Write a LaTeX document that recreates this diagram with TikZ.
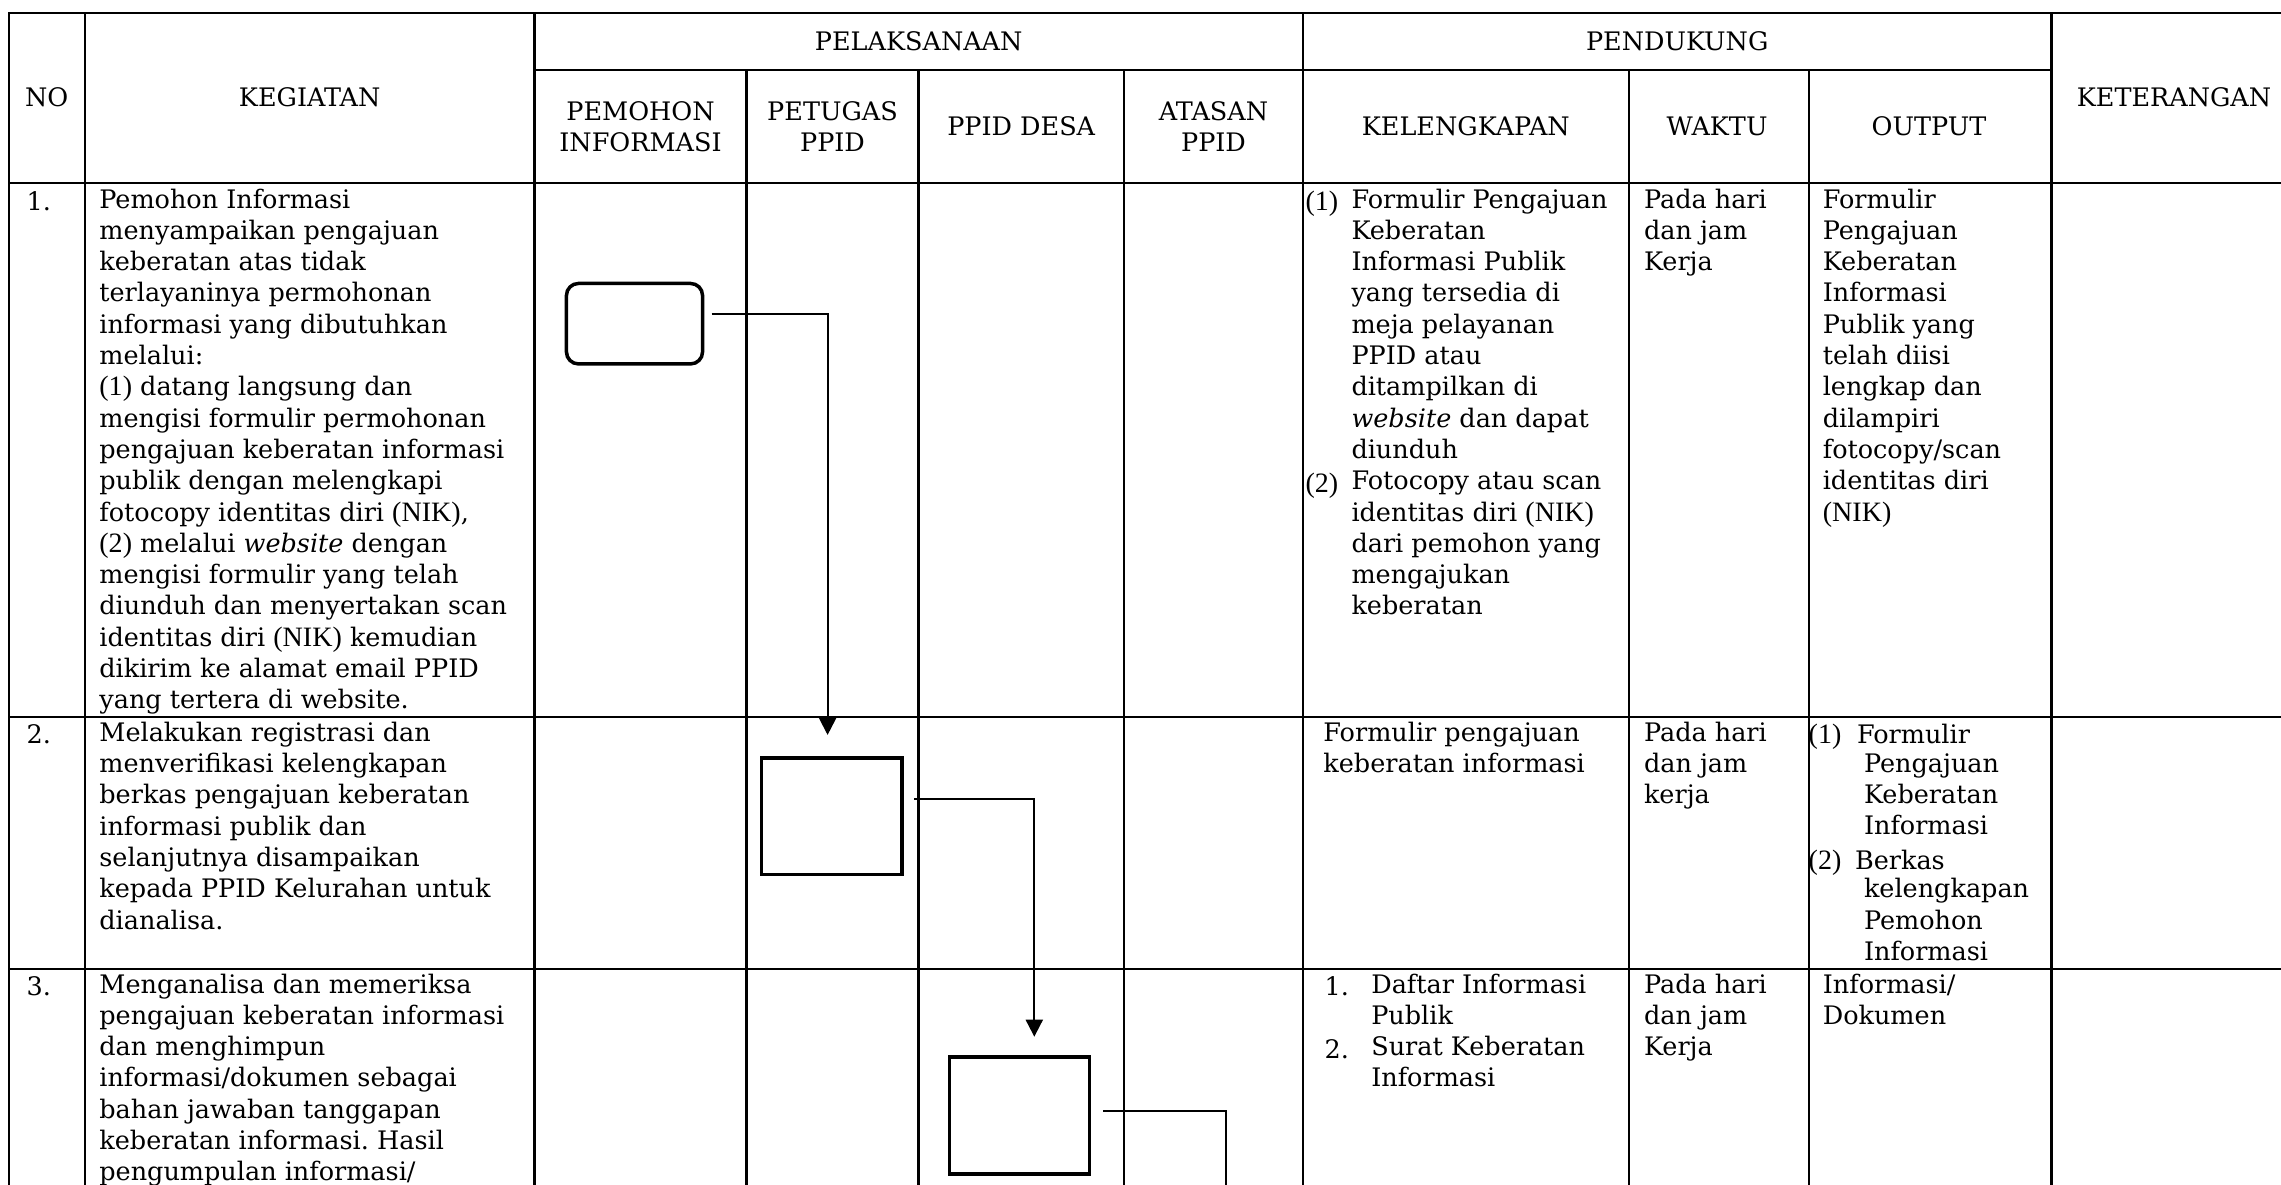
\documentclass[tikz,border=0pt]{standalone}
\usepackage{fontspec}
\setmainfont{DejaVu Serif}
\newfontfamily\tnr[Scale=1.1]{Liberation Serif}
\usetikzlibrary{arrows.meta}
\frenchspacing
\newcommand\bodyfont{\fontsize{25.5pt}{31.3pt}\selectfont\frenchspacing}
\begin{document}
\begin{tikzpicture}[x=1pt,y=-1pt,
  grid/.style={line width=2.2pt, line cap=rect},
  txt/.style={anchor=north west, inner sep=0pt, outer sep=0pt, align=left, font=\bodyfont, execute at begin node=\strut},
  hdr/.style={anchor=center, inner sep=0pt, align=center, font=\bodyfont},
  rbox/.style={draw, line width=3.5pt, rounded corners=12pt, inner sep=0pt, outer sep=0pt},
  sbox/.style={draw, line width=3.5pt, inner sep=0pt, outer sep=0pt},
  conn/.style={line width=2pt, -{Triangle[length=17pt,width=17pt]}},
  flow/.style={line width=2pt}
]
\useasboundingbox (0,0) rectangle (2281,1185);
\fill[white] (0,0) rectangle (2281,1185);

% ---- table grid ----
\draw[grid] (8.7,12.7) -- (2300,12.7);
\draw[grid] (534.5,70) -- (2051.4,70);
\draw[grid] (8.7,182.7) -- (2300,182.7);
\draw[grid] (8.7,717.3) -- (2300,717.3);
\draw[grid] (8.7,969) -- (2300,969);
\foreach \xx in {8.7,84.8,534.5,1303,2051.4}
  \draw[grid] (\xx,12.7) -- (\xx,1200);
\foreach \xx in {746.5,918.5,1124,1628.7,1808.7}
  \draw[grid] (\xx,70) -- (\xx,1200);

% ---- header ----
\node[hdr] (hNo) at (46.7,97.7) {NO};
\node[hdr] (hKeg) at (309.7,97.7) {KEGIATAN};
\node[hdr] (hPel) at (918.7,41.4) {PELAKSANAAN};
\node[hdr] (hPem) at (640.5,126.4) {PEMOHON\\INFORMASI};
\node[hdr] (hPet) at (832.5,126.4) {PETUGAS\\PPID};
\node[hdr] (hDesa) at (1021.2,126.4) {PPID DESA};
\node[hdr] (hAtas) at (1213.5,126.4) {ATASAN\\PPID};
\node[hdr] (hPen) at (1677.2,41.4) {PENDUKUNG};
\node[hdr] (hKel) at (1465.8,126.4) {KELENGKAPAN};
\node[hdr] (hWak) at (1717,126.4) {WAKTU};
\node[hdr] (hOut) at (1929,126.4) {OUTPUT};
\node[hdr] (hKet) at (2174,97.7) {KETERANGAN};

% ---- row 1 ----
\node[txt] (n1) at (26.7,188.7) {1.};
\node[txt] (k1) at (99.4,188.7) {Pemohon Informasi\\menyampaikan pengajuan\\keberatan atas tidak\\terlayaninya permohonan\\informasi yang dibutuhkan\\melalui:\\{\tnr(1)} datang langsung dan\\mengisi formulir permohonan\\pengajuan keberatan informasi\\publik dengan melengkapi\\fotocopy identitas diri {\tnr(NIK)},\\{\tnr(2)} melalui \textit{website} dengan\\mengisi formulir yang telah\\diunduh dan menyertakan scan\\identitas diri {\tnr(NIK)} kemudian\\dikirim ke alamat email PPID\\yang tertera di website.};
\node[txt] (l1m1) at (1305.5,188.7) {\tnr(1)};
\node[txt] (l1m2) at (1305.5,470.3) {\tnr(2)};
\node[txt] (l1) at (1351.5,188.7) {Formulir Pengajuan\\Keberatan\\Informasi Publik\\yang tersedia di\\meja pelayanan\\PPID atau\\ditampilkan di\\\textit{website} dan dapat\\diunduh\\Fotocopy atau scan\\identitas diri {\tnr(NIK)}\\dari pemohon yang\\mengajukan\\keberatan};
\node[txt] (w1) at (1644,188.7) {Pada hari\\dan jam\\Kerja};
\node[txt] (o1) at (1822.8,188.7) {Formulir\\Pengajuan\\Keberatan\\Informasi\\Publik yang\\telah diisi\\lengkap dan\\dilampiri\\fotocopy/scan\\identitas diri\\{\tnr(NIK)}};

% ---- row 2 ----
\node[txt] (n2) at (26.7,722) {2.};
\node[txt] (k2) at (99.4,722) {Melakukan registrasi dan\\menverifikasi kelengkapan\\berkas pengajuan keberatan\\informasi publik dan\\selanjutnya disampaikan\\kepada PPID Kelurahan untuk\\dianalisa.};
\node[txt] (l2) at (1323.4,722) {Formulir pengajuan\\keberatan informasi};
\node[txt] (w2) at (1644,722) {Pada hari\\dan jam\\kerja};
\node[txt] (o2m1) at (1808.7,722) {\tnr(1)};
\node[txt] (o2a) at (1857,722) {Formulir};
\node[txt] (o2b) at (1864,753.3) {Pengajuan\\Keberatan\\Informasi};
\node[txt] (o2m2) at (1808.7,847.2) {\tnr(2)};
\node[txt] (o2c) at (1855,847.2) {Berkas};
\node[txt] (o2d) at (1864,878.5) {kelengkapan\\Pemohon\\Informasi};

% ---- row 3 ----
\node[txt] (n3) at (26.7,973.7) {3.};
\node[txt] (k3) at (99.4,973.7) {Menganalisa dan memeriksa\\pengajuan keberatan informasi\\dan menghimpun\\informasi/dokumen sebagai\\bahan jawaban tanggapan\\keberatan informasi. Hasil\\pengumpulan informasi/};
\node[txt] (l3m1) at (1324.7,973.7) {1.};
\node[txt] (l3m2) at (1324.7,1036.3) {2.};
\node[txt] (l3) at (1371.3,973.7) {Daftar Informasi\\Publik\\Surat Keberatan\\Informasi};
\node[txt] (w3) at (1644,973.7) {Pada hari\\dan jam\\Kerja};
\node[txt] (o3) at (1822.8,973.7) {Informasi/\\Dokumen};

% ---- flow boxes ----
\node[rbox, minimum width=136.1pt, minimum height=80.5pt] (b1) at (634.5,323.7) {};
\node[sbox, minimum width=140.4pt, minimum height=116.5pt] (b2) at (831.8,816) {};
\node[sbox, minimum width=140.3pt, minimum height=117.2pt] (b3) at (1019.5,1115.4) {};

\coordinate (c1s) at ([xshift=9pt,yshift=9.7pt]b1.east);
\coordinate (c1e) at ([xshift=-4.2pt,yshift=22.8pt]b2.north);
\coordinate (c2s) at ([xshift=12.4pt,yshift=17pt]b2.east);
\coordinate (c2e) at ([xshift=14.8pt,yshift=20.1pt]b3.north);
\coordinate (c3s) at ([xshift=13.4pt,yshift=4.4pt]b3.east);
\coordinate (c3e) at (1225.6,1200);

\draw[conn] (c1s) -| (c1e);
\draw[conn] (c2s) -| (c2e);
\draw[flow] (c3s) -| (c3e);
\end{tikzpicture}
\end{document}
